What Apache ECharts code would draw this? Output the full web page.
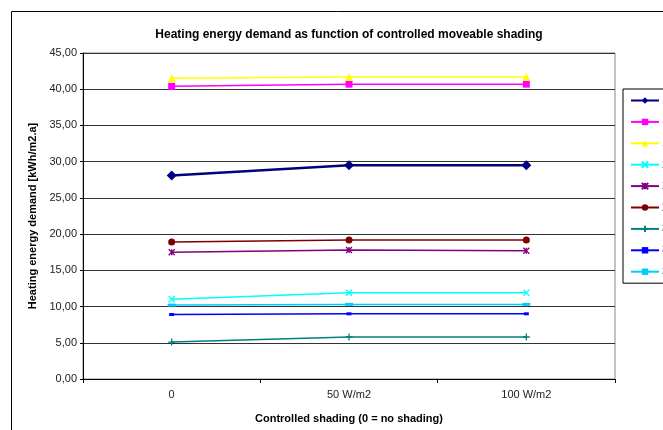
<!DOCTYPE html>
<html>
<head>
<meta charset="utf-8">
<script src="https://cdn.jsdelivr.net/npm/echarts@6/dist/echarts.min.js"></script>
<style>
html,body{margin:0;padding:0;background:#fff;}
#c{width:663px;height:430px;}
</style>
</head>
<body>
<div id="c"></div>
<script>
var categories = ['0', '50 W/m2', '100 W/m2'];
var seriesNames = ['1a', '1b', '1c', '2a', '2b', '2c', '3a', '3b', '3c'];
var s1 = [28.1, 29.5, 29.5];
var s2 = [40.4, 40.7, 40.7];
var s3 = [41.5, 41.7, 41.7];
var s4 = [11.0, 11.9, 11.9];
var s5 = [17.5, 17.8, 17.7];
var s6 = [18.9, 19.2, 19.2];
var s7 = [5.1, 5.8, 5.8];
var s8 = [8.9, 9.0, 9.0];
var s9 = [10.2, 10.3, 10.3];
var seriesData = [s1, s2, s3, s4, s5, s6, s7, s8, s9];

var colors = ['#000080', '#FF00FF', '#FFFF00', '#00FFFF', '#800080', '#800000', '#008080', '#0000FF', '#00CCFF'];
var symbols = [
  'diamond',
  'rect',
  'triangle',
  'path://M0,0L10,10M10,0L0,10',
  'path://M0,0L10,10M10,0L0,10M5,0V10',
  'circle',
  'path://M5,0V10M0,5H10',
  'rect',
  'rect'
];
var symbolSizes = [10, 7, 8, 6, 6, 7, 7, [5, 3], [8, 3]];
var lineWidths = [2.5, 1.5, 1.5, 1.5, 1.5, 1.5, 1.5, 1.5, 1.5];
var strokeSyms = [false, false, false, true, true, false, true, false, false];

var chart = echarts.init(document.getElementById('c'), null, {renderer: 'canvas'});
var series = seriesNames.map(function (n, i) {
  return {
    name: n,
    type: 'line',
    data: seriesData[i],
    symbol: symbols[i],
    symbolSize: symbolSizes[i],
    showAllSymbol: true,
    lineStyle: {color: colors[i], width: lineWidths[i]},
    itemStyle: strokeSyms[i] ? {color: colors[i], borderColor: colors[i], borderWidth: 1.3} : {color: colors[i], borderWidth: 0},
    emphasis: {disabled: true},
    animation: false
  };
});

chart.setOption({
  animation: false,
  textStyle: {fontFamily: 'Liberation Sans, Arial, sans-serif'},
  title: {
    text: 'Heating energy demand as function of controlled moveable shading',
    left: 344, top: 24, textAlign: 'center',
    textStyle: {fontSize: 12, fontWeight: 'bold', color: '#000', fontFamily: 'Liberation Sans, Arial, sans-serif'}
  },
  graphic: [
    {type: 'rect', shape: {x: 11.5, y: 11.5, width: 700, height: 500}, style: {fill: 'none', stroke: '#000', lineWidth: 1}, z: -1}
  ],
  legend: {
    orient: 'vertical',
    left: 623, top: 89,
    data: seriesNames,
    itemWidth: 28, itemHeight: 8, itemGap: 10.4,
    padding: [6, 60, 6, 7],
    borderColor: '#000', borderWidth: 1,
    backgroundColor: '#fff',
    textStyle: {fontSize: 11, color: '#000', padding: [0, 0, 0, -2]}
  },
  grid: {
    left: 83, top: 53, width: 532, height: 326,
    show: true, borderColor: '#888', borderWidth: 1, backgroundColor: 'transparent'
  },
  xAxis: {
    type: 'category',
    data: categories,
    boundaryGap: true,
    name: 'Controlled shading (0 = no shading)',
    nameLocation: 'middle', nameGap: 34,
    nameTextStyle: {fontSize: 11, fontWeight: 'bold', color: '#000'},
    axisLine: {lineStyle: {color: '#000', width: 1}},
    axisTick: {show: true, length: 4, lineStyle: {color: '#000'}},
    axisLabel: {fontSize: 11, color: '#222', margin: 10},
    splitLine: {show: false}
  },
  yAxis: {
    type: 'value',
    min: 0, max: 45, interval: 5,
    name: 'Heating energy demand [kWh/m2.a]',
    nameLocation: 'middle', nameGap: 45,
    nameTextStyle: {fontSize: 11, fontWeight: 'bold', color: '#000'},
    axisLine: {show: true, lineStyle: {color: '#000', width: 1}},
    axisTick: {show: true, length: 3, lineStyle: {color: '#000'}},
    axisLabel: {
      fontSize: 11, color: '#222', margin: 6,
      formatter: function (v) { return v.toFixed(2).replace('.', ','); }
    },
    splitLine: {show: true, lineStyle: {color: '#333', width: 1}}
  },
  series: series
});
</script>
</body>
</html>
